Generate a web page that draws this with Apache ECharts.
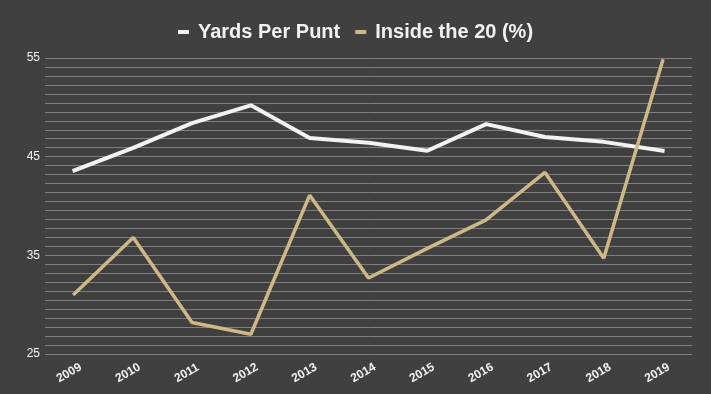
<!DOCTYPE html>
<html>
<head>
<meta charset="utf-8">
<script src="https://cdn.jsdelivr.net/npm/echarts@6/dist/echarts.min.js"></script>
<style>
html,body{margin:0;padding:0;background:#404040;}
#c{width:711px;height:394px;}
</style>
</head>
<body>
<div id="c"></div>
<script>
var years = ['2009','2010','2011','2012','2013','2014','2015','2016','2017','2018','2019'];
var yardsPerPunt = [43.6, 45.9, 48.4, 50.2, 46.9, 46.4, 45.6, 48.3, 47.0, 46.5, 45.6];
var inside20 = [31.1, 36.8, 28.2, 27.0, 41.1, 32.7, 35.7, 38.6, 43.4, 34.7, 54.7];
var yMin = 25, yMax = 55, yStep = 10;

var chart = echarts.init(document.getElementById('c'), null, {renderer: 'canvas'});
chart.setOption({
  backgroundColor: '#404040',
  animation: false,
  legend: {
    top: 17,
    left: 'center',
    icon: 'rect',
    itemWidth: 11,
    itemHeight: 4,
    itemGap: 15,
    textStyle: {color: '#f2f2f2', fontSize: 20, fontWeight: 'bold', fontFamily: 'Liberation Sans, Arial, sans-serif', padding: [0, 0, 0, 4]},
    data: ['Yards Per Punt', 'Inside the 20 (%)']
  },
  grid: {left: 45, right: 19, top: 58, bottom: 40},
  xAxis: {
    type: 'category',
    data: years,
    boundaryGap: true,
    axisLine: {show: false},
    axisTick: {show: false},
    axisLabel: {
      color: '#f2f2f2', fontSize: 12, fontWeight: 'bold',
      fontFamily: 'Liberation Sans, Arial, sans-serif',
      rotate: 30, align: 'center', verticalAlign: 'middle', margin: 16,
      padding: [0, 12, 0, 0]
    }
  },
  yAxis: {
    type: 'value',
    min: yMin, max: yMax, interval: yStep,
    axisLine: {show: false},
    axisTick: {show: false},
    axisLabel: {color: '#f2f2f2', fontSize: 12, fontFamily: 'Liberation Sans, Arial, sans-serif', margin: 5},
    splitLine: {show: true, lineStyle: {color: '#7f7f7f', width: 1}},
    minorTick: {show: false, splitNumber: 11},
    minorSplitLine: {show: true, lineStyle: {color: '#7f7f7f', width: 1}}
  },
  series: [
    {
      name: 'Yards Per Punt', type: 'line', data: yardsPerPunt,
      symbol: 'none', color: '#f2f2f2',
      lineStyle: {color: '#f2f2f2', width: 4, cap: 'square'}
    },
    {
      name: 'Inside the 20 (%)', type: 'line', data: inside20,
      symbol: 'none', color: '#CEB888',
      lineStyle: {color: '#CEB888', width: 3.5, cap: 'square'}
    }
  ]
});
</script>
</body>
</html>
